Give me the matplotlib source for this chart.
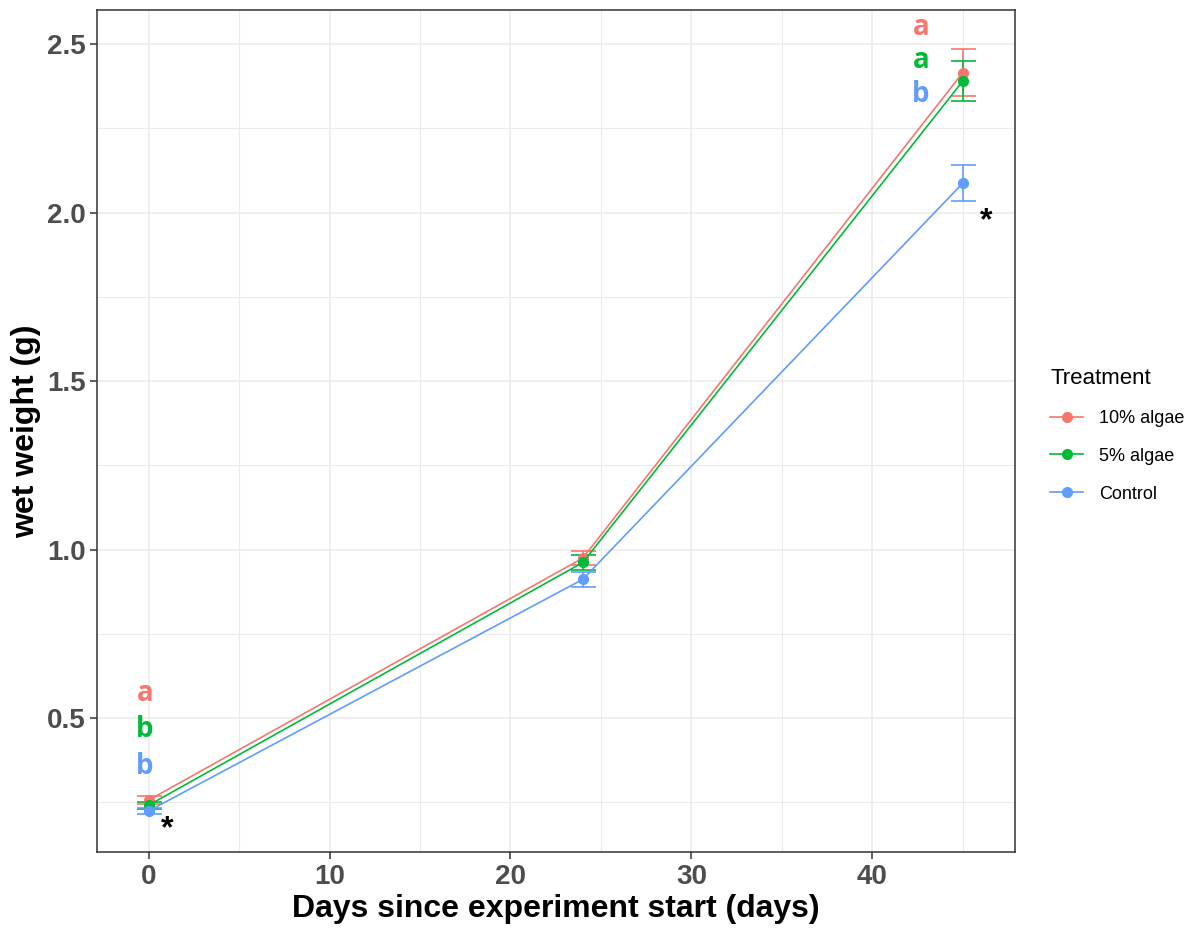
import matplotlib
matplotlib.use('Agg')
import matplotlib.pyplot as plt
from matplotlib.lines import Line2D
from matplotlib.ticker import MultipleLocator

plt.rcParams['font.family'] = ['Liberation Sans', 'DejaVu Sans']

# Data
days = [0, 24, 45]
treatments = ['10% algae', '5% algae', 'Control']
colors = ['#F8766D', '#00BA38', '#619CFF']
means = {
    '10% algae': [0.257, 0.975, 2.415],
    '5% algae': [0.242, 0.962, 2.390],
    'Control': [0.225, 0.912, 2.087],
}
errs = {
    '10% algae': [0.012, 0.020, 0.070],
    '5% algae': [0.010, 0.022, 0.060],
    'Control': [0.010, 0.022, 0.054],
}
# significance letters per treatment
letters_day0 = ['a', 'b', 'b']
letters_y0 = [0.574, 0.467, 0.357]
letters_day45 = ['a', 'a', 'b']
letters_y45 = [2.548, 2.452, 2.350]
stars = [(1.0, 0.17), (46.3, 1.975)]

fig = plt.figure(figsize=(11.92, 9.33), dpi=100)
ax = fig.add_axes([97.3 / 1192, 1 - 851.7 / 933, (1015 - 97.3) / 1192, (851.7 - 10) / 933])

handles = []
for t, c in zip(treatments, colors):
    ax.errorbar(days, means[t], yerr=errs[t], color=c, lw=1.2, marker='o', ms=7,
                capsize=9, elinewidth=1.2, capthick=1.2, zorder=3)
    handles.append(Line2D([], [], color=c, lw=1.2, marker='o', ms=7, label=t))

letter_font = ['Open Sans', 'DejaVu Sans']
for lab, y, c in zip(letters_day0, letters_y0, colors):
    ax.text(-0.2, y, lab, color=c, fontsize=20, fontweight='bold', ha='center', va='center',
            family=letter_font)
for lab, y, c in zip(letters_day45, letters_y45, colors):
    ax.text(42.7, y, lab, color=c, fontsize=20, fontweight='bold', ha='center', va='center',
            family=letter_font)
for x, y in stars:
    ax.text(x, y, '*', color='black', fontsize=23, fontweight='bold', ha='center', va='center')

ax.set_xlim(-2.84, 47.89)
ax.set_ylim(0.104, 2.601)
ax.xaxis.set_minor_locator(MultipleLocator(5))
ax.yaxis.set_minor_locator(MultipleLocator(0.25))
ax.grid(which='major', color='#EBEBEB', lw=1.1, zorder=0)
ax.grid(which='minor', color='#EBEBEB', lw=0.8, zorder=0)
ax.set_axisbelow(True)
for s in ax.spines.values():
    s.set_color('#333333')
    s.set_linewidth(1.1)
ax.tick_params(which='minor', length=0)
ax.tick_params(which='major', length=5, color='#333333', width=1.1,
               labelsize=20, labelcolor='#4D4D4D')
ax.set_xticks([0, 10, 20, 30, 40])
ax.set_xticklabels(['0', '10', '20', '30', '40'], fontweight='bold')
ax.set_yticks([0.5, 1.0, 1.5, 2.0, 2.5])
ax.set_yticklabels(['0.5', '1.0', '1.5', '2.0', '2.5'], fontweight='bold')

ax.set_xlabel('Days since experiment start (days)', fontsize=23, fontweight='bold', labelpad=3)
ax.set_ylabel('wet weight (g)', fontsize=23, fontweight='bold', labelpad=4)

fig.legend(handles=handles, title='Treatment', loc='upper left',
           bbox_to_anchor=(1034 / 1192, 1 - 352 / 933), frameon=False,
           fontsize=13, title_fontsize=16, handlelength=1.8, handletextpad=0.9,
           labelspacing=1.15, alignment='left')

fig.savefig('out.png', dpi=100)
